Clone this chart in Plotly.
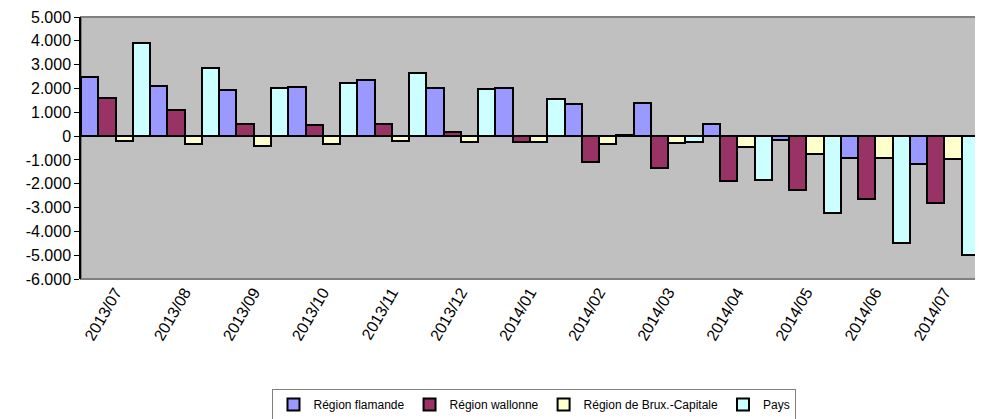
import plotly.graph_objects as go

months = ["2013/07", "2013/08", "2013/09", "2013/10", "2013/11", "2013/12", "2014/01",
          "2014/02", "2014/03", "2014/04", "2014/05", "2014/06", "2014/07"]

flamande = [2500, 2100, 1940, 2080, 2360, 2000, 2020, 1360, 1410, 520, -170, -900, -1180]
wallonne = [1600, 1100, 500, 470, 510, 180, -230, -1070, -1340, -1890, -2270, -2640, -2810]
bruxelles = [-210, -340, -410, -340, -220, -230, -250, -320, -300, -470, -760, -910, -980]
pays = [3900, 2860, 2000, 2250, 2660, 1960, 1540, 30, -230, -1850, -3210, -4500, -4990]

series_names = ["Région flamande", "Région wallonne", "Région de Brux.-Capitale", "Pays"]
colors = ["#9999FF", "#993366", "#FFFFCC", "#CCFFFF"]

y_ticks = [5000, 4000, 3000, 2000, 1000, 0, -1000, -2000, -3000, -4000, -5000, -6000]
y_labels = ["5.000", "4.000", "3.000", "2.000", "1.000", "0", "-1.000", "-2.000",
            "-3.000", "-4.000", "-5.000", "-6.000"]

fig = go.Figure()
for name, vals, col in zip(series_names, [flamande, wallonne, bruxelles, pays], colors):
    fig.add_trace(go.Bar(
        x=months,
        y=vals,
        name=name,
        marker=dict(color=col, line=dict(color="black", width=2)),
    ))

# plot border (grey on top/right/bottom)
fig.add_shape(type="rect", xref="paper", yref="paper", x0=0, x1=1, y0=0, y1=1,
              line=dict(color="#808080", width=2), layer="below")

# page body has an 8px margin, so the figure is a bit smaller than the window
fig.update_layout(
    width=975,
    height=411,
    barmode="group",
    bargap=0,
    bargroupgap=0,
    plot_bgcolor="#C0C0C0",
    paper_bgcolor="white",
    font=dict(family="Liberation Sans, Arial, sans-serif", color="black"),
    margin=dict(l=73, r=4, t=9, b=140, autoexpand=False),
    showlegend=True,
    legend=dict(
        orientation="h",
        x=0.505,
        xanchor="center",
        y=-0.42,
        yanchor="top",
        font=dict(size=12),
        bordercolor="#808080",
        borderwidth=1,
        bgcolor="white",
        itemwidth=30,
    ),
)

fig.update_xaxes(
    type="category",
    tickangle=-60,
    tickfont=dict(size=16),
    showgrid=False,
    ticks="",
    showline=False,
    zeroline=False,
)

fig.update_yaxes(
    range=[-6000, 5000],
    tickvals=y_ticks,
    ticktext=y_labels,
    tickfont=dict(size=16),
    ticklabeloverflow="allow",
    showgrid=False,
    zeroline=True,
    zerolinecolor="black",
    zerolinewidth=1.5,
    showline=True,
    linecolor="black",
    linewidth=1.5,
    ticks="outside",
    ticklen=5,
    tickcolor="black",
)

fig.write_html("out.html")
